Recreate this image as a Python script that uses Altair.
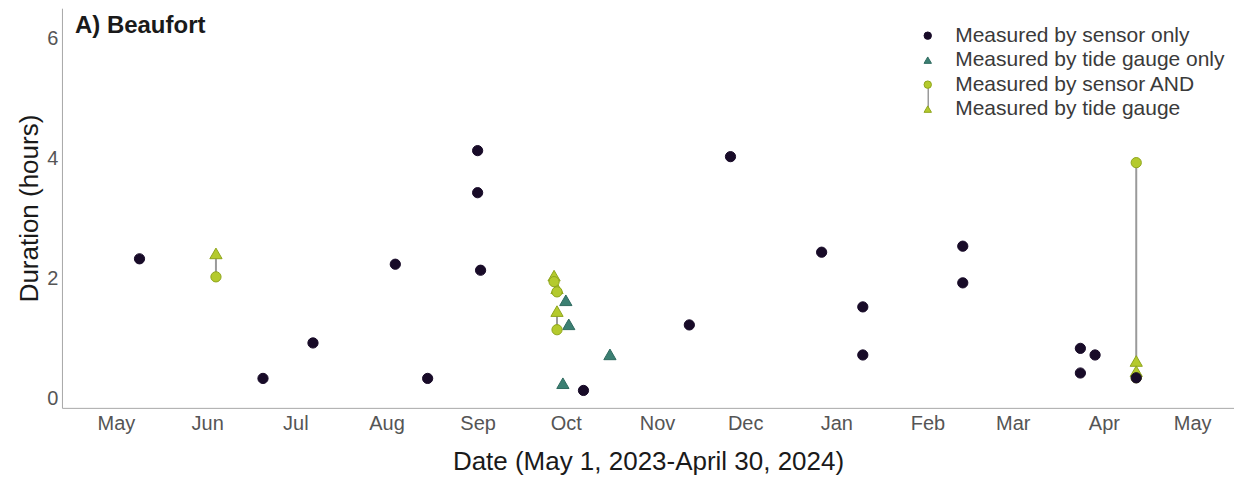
import altair as alt
import pandas as pd

# ---- data ----
kinds = [
    "Measured by sensor only",
    "Measured by tide gauge only",
    "Measured by sensor AND",
    "Measured by tide gauge",
]

sensor_dates = ["2023-05-09", "2023-06-20", "2023-07-07", "2023-08-04", "2023-08-15",
                "2023-09-01", "2023-09-01", "2023-09-02", "2023-10-07", "2023-11-12",
                "2023-11-26", "2023-12-27", "2024-01-10", "2024-01-10", "2024-02-13",
                "2024-02-13", "2024-03-24", "2024-03-29", "2024-03-24", "2024-04-12"]
sensor_vals = [2.33, 0.34, 0.93, 2.24, 0.34, 4.13, 3.43, 2.14, 0.14, 1.23,
               4.03, 2.44, 1.53, 0.73, 2.54, 1.93, 0.84, 0.73, 0.43, 0.35]

gauge_dates = ["2023-10-01", "2023-10-02", "2023-09-30", "2023-10-16"]
gauge_vals = [1.64, 1.24, 0.26, 0.74]

pair_dates = ["2023-06-04", "2023-09-27", "2023-09-28", "2023-09-28", "2024-04-12", "2024-04-12"]
pair_sensor = [2.03, 1.95, 1.78, 1.15, 3.93, 0.35]
pair_gauge = [2.42, 2.05, 1.84, 1.46, 0.63, 0.46]

month_ticks = ["2023-05-01", "2023-06-01", "2023-07-01", "2023-08-01", "2023-09-01",
               "2023-10-01", "2023-11-01", "2023-12-01", "2024-01-01", "2024-02-01",
               "2024-03-01", "2024-04-01", "2024-05-01"]
x_domain = [("2023-04-12", 15), ("2024-05-15", 6)]
y_domain = [-0.15, 6.5]
y_ticks = [0, 2, 4, 6]

fills = ["#180b28", "#3b7f72", "#b4ca2d", "#b4ca2d"]
strokes = ["#180b28", "#2f6a5f", "#8fa51c", "#8fa51c"]
shapes = ["circle", "triangle-up", "circle", "triangle-up"]

FONT = "Liberation Sans"


def dt(s, h=0):
    y, m, d = (int(p) for p in s.split("-"))
    return alt.DateTime(year=y, month=m, date=d, hours=h, utc=True)


rows = []
for d, v in zip(pair_dates, pair_gauge):
    rows.append({"date": d, "value": v, "kind": kinds[3]})
for d, v in zip(gauge_dates, gauge_vals):
    rows.append({"date": d, "value": v, "kind": kinds[1]})
for d, v in zip(pair_dates, pair_sensor):
    rows.append({"date": d, "value": v, "kind": kinds[2]})
for d, v in zip(sensor_dates, sensor_vals):
    rows.append({"date": d, "value": v, "kind": kinds[0]})
points = pd.DataFrame(rows)

pairs = pd.DataFrame({"date": pair_dates, "sensor": pair_sensor, "gauge": pair_gauge})

x_scale = alt.Scale(type="utc", domain=[dt(*x_domain[0]), dt(*x_domain[1])], nice=False)
y_scale = alt.Scale(domain=y_domain, nice=False, zero=False)

x_axis = alt.Axis(
    values=[dt(s) for s in month_ticks], labelExpr="utcFormat(datum.value, '%b')",
    title="Date (May 1, 2023-April 30, 2024)", grid=False, ticks=False,
    labelFontSize=20, labelColor="#555555", labelPadding=6, labelFont=FONT,
    titleFontSize=26, titleFont=FONT, titleFontWeight="normal", titleColor="#1a1a1a",
    titlePadding=15, domainColor="#a8a8a8", labelFlush=False, labelOverlap=False,
)
y_axis = alt.Axis(
    values=y_ticks, title="Duration (hours)", grid=False, ticks=False,
    labelFontSize=20, labelColor="#555555", labelPadding=4, labelFont=FONT,
    titleFontSize=26, titleFont=FONT, titleFontWeight="normal", titleColor="#1a1a1a",
    titlePadding=4, domainColor="#a8a8a8",
)

fill_enc = alt.Fill("kind:N", scale=alt.Scale(domain=kinds, range=fills))
stroke_enc = alt.Stroke("kind:N", scale=alt.Scale(domain=kinds, range=strokes))
shape_enc = alt.Shape("kind:N", scale=alt.Scale(domain=kinds, range=shapes))

legend = alt.Legend(
    orient="none", legendX=856, legendY=17, title=None,
    labelFontSize=21, labelFont=FONT, labelColor="#3a3a3a", labelLimit=400,
    symbolSize=55, rowPadding=2.5, labelOffset=17, symbolStrokeWidth=1,
)

rules = alt.Chart(pairs).mark_rule(color="#9a9a9a", strokeWidth=2).encode(
    x=alt.X("date:T", scale=x_scale, axis=x_axis),
    y=alt.Y("sensor:Q", scale=y_scale, axis=y_axis),
    y2="gauge:Q",
)

base = alt.Chart(points).encode(
    x=alt.X("date:T", scale=x_scale, axis=x_axis),
    y=alt.Y("value:Q", scale=y_scale, axis=y_axis),
    fill=alt.Fill("kind:N", scale=alt.Scale(domain=kinds, range=fills), legend=legend),
    stroke=alt.Stroke("kind:N", scale=alt.Scale(domain=kinds, range=strokes), legend=legend),
    shape=alt.Shape("kind:N", scale=alt.Scale(domain=kinds, range=shapes), legend=legend),
)

tri = base.mark_point(filled=True, size=150, opacity=1, strokeWidth=1).transform_filter(
    alt.FieldOneOfPredicate(field="kind", oneOf=[kinds[1], kinds[3]])
)
circ = base.mark_point(filled=True, size=105, opacity=1, strokeWidth=1).transform_filter(
    alt.FieldOneOfPredicate(field="kind", oneOf=[kinds[0], kinds[2]])
)

legend_link = alt.Chart(pd.DataFrame({"a": [0]})).mark_rule(color="#9a9a9a", strokeWidth=1.5).encode(
    x=alt.value(867), y=alt.value(78), y2=alt.value(102)
)

label = alt.Chart(pd.DataFrame({"t": ["A) Beaufort"]})).mark_text(
    align="left", baseline="middle", fontSize=24, fontWeight="bold", font=FONT, color="#1a1a1a"
).encode(text="t:N", x=alt.value(13), y=alt.value(18))

chart = alt.layer(rules, legend_link, tri, circ, label).properties(
    width=1173, height=400,
    padding={"left": 8, "top": 0, "right": 0, "bottom": 0},
).configure_view(stroke=None)

chart.save("out.html", embed_options={"renderer": "svg", "actions": False})
